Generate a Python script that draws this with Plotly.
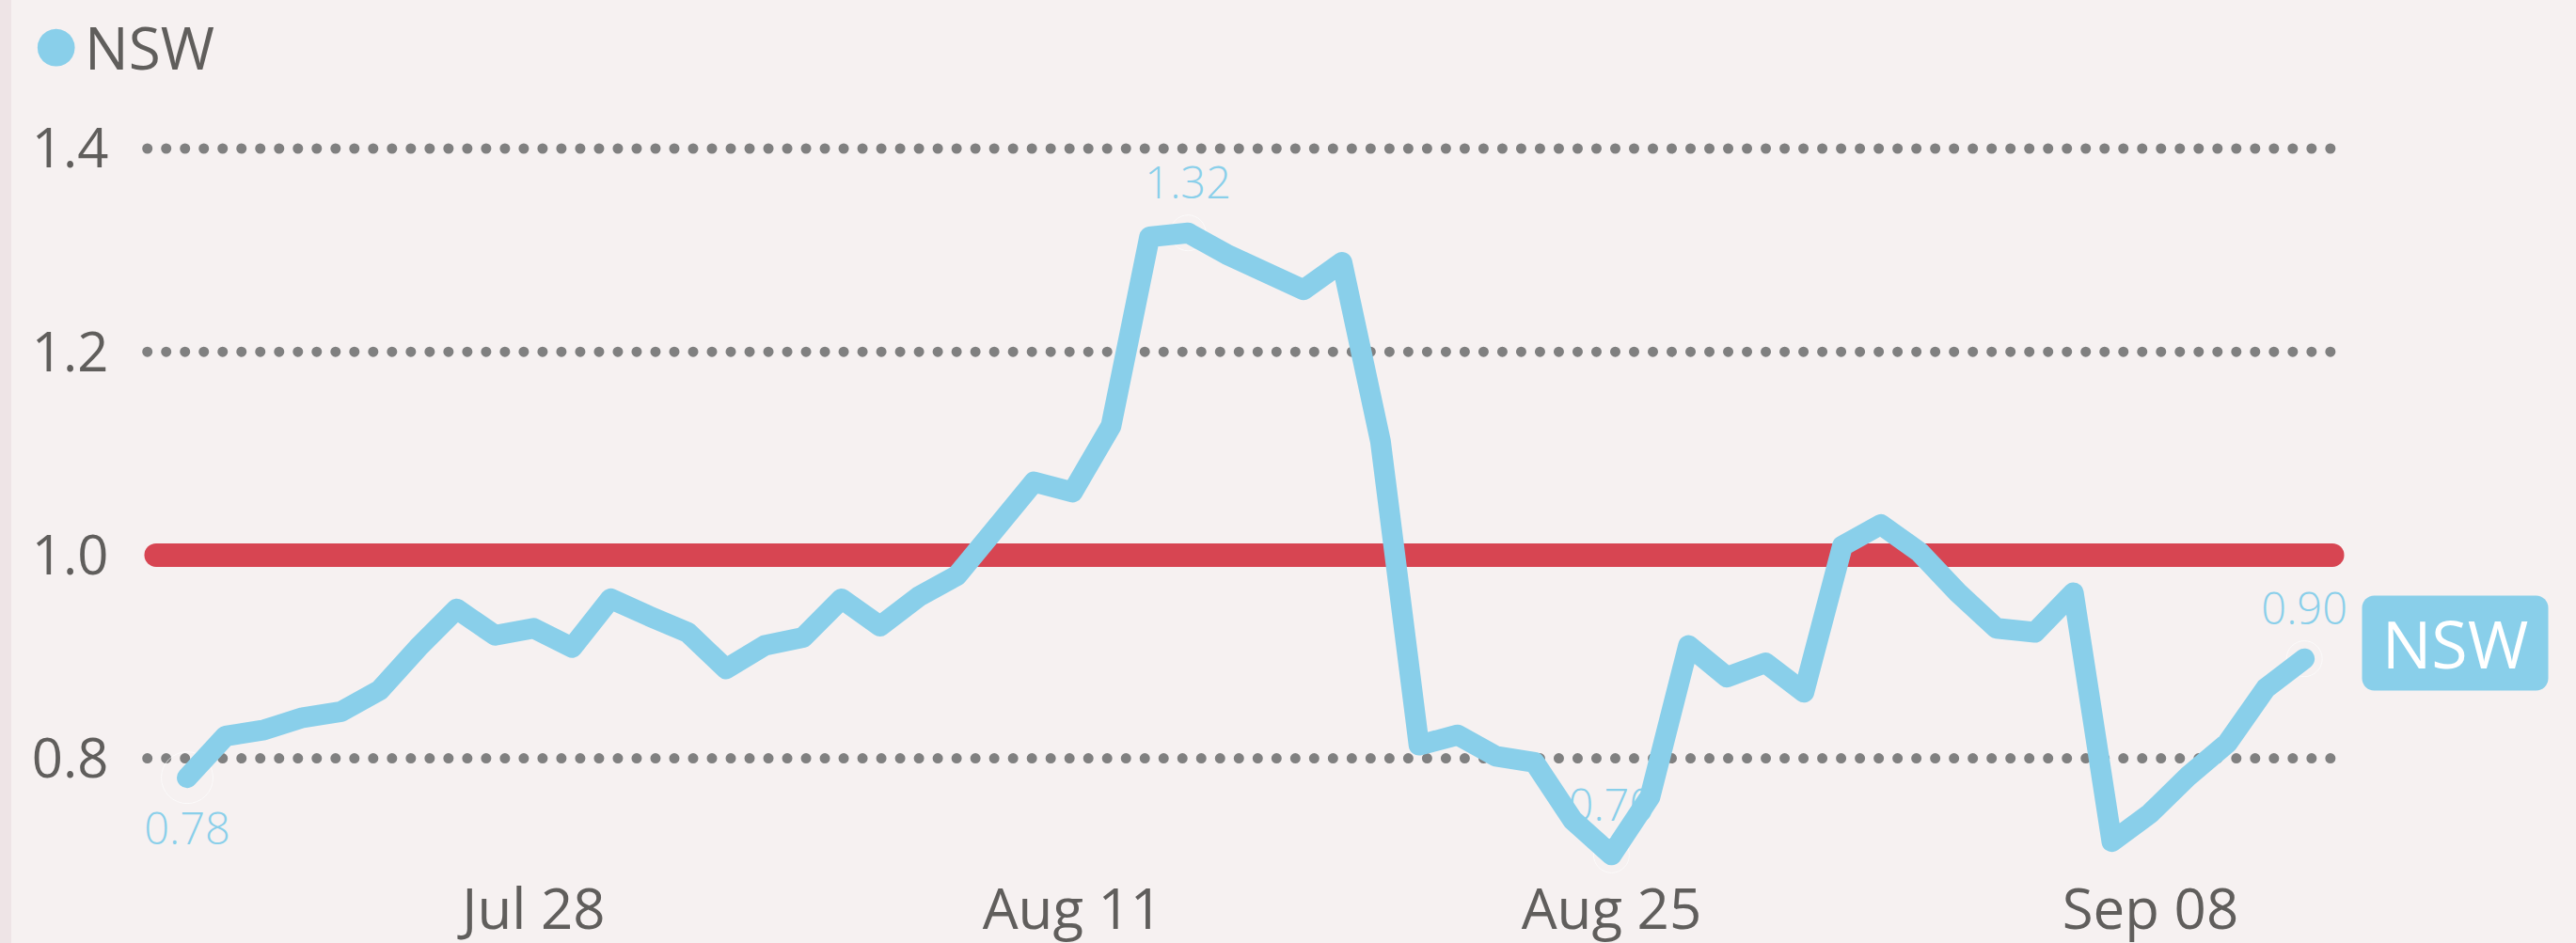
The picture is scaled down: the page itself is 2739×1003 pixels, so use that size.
import plotly.graph_objects as go
import numpy as np
import pandas as pd

# ---------------- data ----------------
SERIES_NAME = "NSW"
START_DATE = "2020-07-19"
r_values = [0.781, 0.822, 0.828, 0.840, 0.846, 0.867, 0.909, 0.947, 0.921, 0.928,
            0.909, 0.957, 0.940, 0.924, 0.888, 0.911, 0.919, 0.957, 0.930, 0.959,
            0.980, 1.030, 1.072, 1.062, 1.127, 1.313, 1.317, 1.296, 1.280, 1.261,
            1.288, 1.112, 0.813, 0.823, 0.802, 0.796, 0.739, 0.705, 0.762, 0.911,
            0.880, 0.894, 0.865, 1.009, 1.030, 1.003, 0.963, 0.928, 0.924, 0.963,
            0.718, 0.746, 0.783, 0.815, 0.869, 0.898]
THRESHOLD = 1.0
x_tick_vals = ["2020-07-28", "2020-08-11", "2020-08-25", "2020-09-08"]
x_tick_text = ["Jul 28", "Aug 11", "Aug 25", "Sep 08"]
y_tick_vals = [0.8, 1.0, 1.2, 1.4]

# ---------------- style ----------------
BG = "#F6F1F1"
STRIPE = "#EEE4E6"
LINE_COLOR = "#89CFEA"
RED = "#D74552"
GRID = "#808080"
TEXT = "#605E5C"
FONT = "Open Sans"

W, H = 2739, 1003
ML, MR, MT, MB = 154, 259, 100, 78
PW, PH = W - ML - MR, H - MT - MB
PX_PER_UNIT = 1081.0

dates = pd.date_range(START_DATE, periods=len(r_values), freq="D")
date_str = [d.strftime("%Y-%m-%d") for d in dates]
vals = np.array(r_values)
n = len(vals)
i_min, i_max = int(np.argmin(vals)), int(np.argmax(vals))
label_idx = sorted({0, n - 1, i_min, i_max})
lab_x = [date_str[i] for i in label_idx]
lab_y = [float(vals[i]) for i in label_idx]
lab_text = [f"{vals[i]:.2f}" for i in label_idx]
lab_pos = ["bottom center" if i == 0 else "top center" for i in label_idx]
lab_size = [55 if i == 0 else 38 for i in label_idx]

fig = go.Figure()

# data labels (drawn beneath the line)
fig.add_trace(go.Scatter(
    x=lab_x, y=lab_y, mode="markers+text", text=lab_text, textposition=lab_pos,
    marker=dict(size=lab_size, color="rgba(0,0,0,0)"),
    textfont=dict(family=FONT, size=47, color=LINE_COLOR, weight=300),
    cliponaxis=False, hoverinfo="skip", showlegend=False))

# main series
fig.add_trace(go.Scatter(
    x=date_str, y=vals, mode="lines", name=SERIES_NAME,
    line=dict(color=LINE_COLOR, width=22), showlegend=False))

shapes = [
    # left stripe of the visual container
    dict(type="rect", xref="paper", yref="paper",
         x0=-ML / PW, x1=(12 - ML) / PW, y0=-1, y1=2,
         fillcolor=STRIPE, line=dict(width=0), layer="below"),
]
# dotted gridlines (the threshold line replaces the one at 1.0)
for gv in y_tick_vals:
    if gv == THRESHOLD:
        continue
    shapes.append(dict(type="line", xref="paper", yref="y", x0=0, x1=1, y0=gv, y1=gv,
                       line=dict(color=GRID, width=11, dash="11px,9px"), layer="below"))
# threshold line
shapes.append(dict(type="line", xref="paper", yref="y", x0=12 / PW, x1=1.0,
                   y0=THRESHOLD, y1=THRESHOLD, line=dict(color=RED, width=25), layer="below"))

# end-of-series badge geometry (pixel offsets from the last point)
bx0, bx1, by0, by1 = 62, 259, -33, 67

annotations = [
    dict(x=date_str[-1], y=float(vals[-1]), xref="x", yref="y", text=SERIES_NAME, showarrow=False,
         xshift=(bx0 + bx1) / 2, yshift=(by0 + by1) / 2, xanchor="center", yanchor="middle",
         width=bx1 - bx0, height=by1 - by0, borderpad=0, bgcolor=LINE_COLOR,
         align="center", valign="middle",
         font=dict(family=FONT, size=70, color="white")),
    # legend
    dict(x=(59 - ML) / PW, y=(H - MB - 46) / PH, xref="paper", yref="paper",
         text="●", showarrow=False, xanchor="center", yanchor="middle",
         font=dict(family="DejaVu Sans", size=52, color=LINE_COLOR)),
    dict(x=(88 - ML) / PW, y=(H - MB - 50) / PH, xref="paper", yref="paper",
         text=SERIES_NAME, showarrow=False, xanchor="left", yanchor="middle",
         font=dict(family=FONT, size=62, color=TEXT)),
]

ymax = 1.4 + (158 - MT) / PX_PER_UNIT
ymin = ymax - PH / PX_PER_UNIT
x_lo = dates[0] - pd.Timedelta(hours=26.4)
x_hi = dates[-1] + pd.Timedelta(hours=17.5)

fig.update_layout(
    width=W, height=H,
    margin=dict(l=ML, r=MR, t=MT, b=MB, pad=0, autoexpand=False),
    paper_bgcolor=BG, plot_bgcolor=BG,
    font=dict(family=FONT, color=TEXT),
    shapes=shapes, annotations=annotations,
    showlegend=False,
    xaxis=dict(type="date", range=[x_lo, x_hi], tickvals=x_tick_vals, ticktext=x_tick_text,
               automargin=False, showgrid=False, zeroline=False, showline=False, ticks="",
               ticklabelstandoff=2,
               tickfont=dict(family=FONT, size=60, color=TEXT)),
    yaxis=dict(range=[ymin, ymax], tickvals=y_tick_vals, tickformat=".1f", automargin=False,
               showgrid=False, zeroline=False, showline=False, ticks="outside", ticklen=26,
               tickcolor="rgba(0,0,0,0)", tickfont=dict(family=FONT, size=58, color=TEXT)),
)

post = """
document.body.style.margin='0';document.body.style.overflow='hidden';
var gd=document.getElementById('{plot_id}');
gd.querySelectorAll('.shapelayer path').forEach(function(p){
  var da=p.style.strokeDasharray;
  p.style.strokeLinecap='round';
  if(da && da!=='none'){p.style.strokeDasharray='0.01px,20px';p.style.strokeDashoffset='-2.7px';}
});
gd.querySelectorAll('.scatterlayer .js-line').forEach(function(p){p.style.strokeLinecap='round';p.style.strokeLinejoin='round';});
gd.querySelectorAll('.annotation rect.bg').forEach(function(r){r.setAttribute('rx','13');r.setAttribute('ry','13');});
"""

fig.write_html("out.html", config={"displayModeBar": False}, post_script=post)
